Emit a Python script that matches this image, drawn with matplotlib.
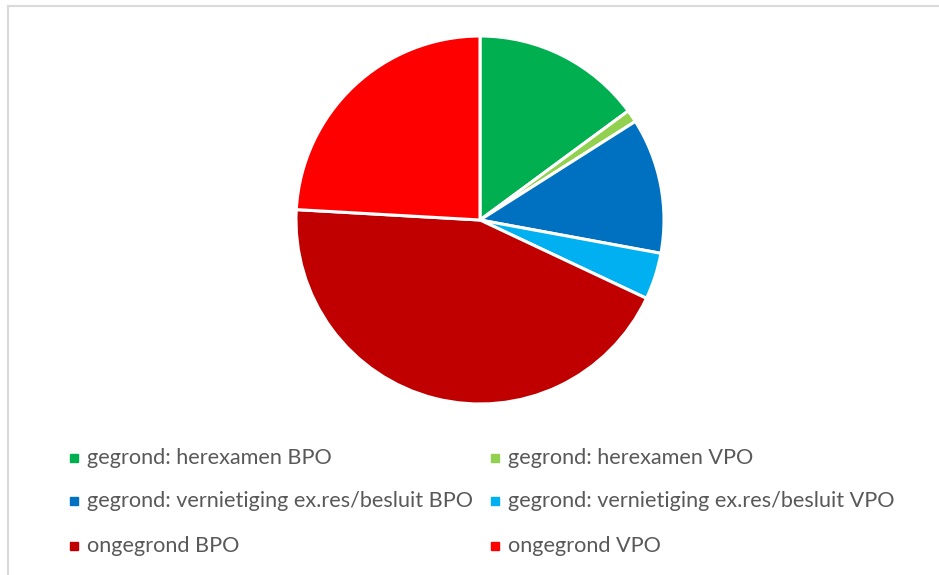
import matplotlib.pyplot as plt
from matplotlib.patches import Rectangle
from matplotlib.lines import Line2D

# slice data (percent), clockwise from 12 o'clock
labels = ['gegrond: herexamen BPO', 'gegrond: herexamen VPO',
          'gegrond: vernietiging ex.res/besluit BPO', 'gegrond: vernietiging ex.res/besluit VPO',
          'ongegrond BPO', 'ongegrond VPO']
values = [14.9, 1.1, 11.9, 4.1, 43.9, 24.1]
colors = ['#00b050', '#92d050', '#0070c0', '#00b0f0', '#c00000', '#ff0000']

W, H = 939, 575
fig = plt.figure(figsize=(W / 100, H / 100), dpi=100)

# pie centre (480, 220) px, radius 184 px
cx, cy, r = 480, 220, 184
ax = fig.add_axes([(cx - r) / W, (H - cy - r) / H, 2 * r / W, 2 * r / H])
ax.pie(values, colors=colors, startangle=90, counterclock=False,
       wedgeprops=dict(edgecolor='white', linewidth=2.2))
ax.set_xlim(-1, 1)
ax.set_ylim(-1, 1)
ax.set_aspect('equal')
ax.axis('off')

# chart frame (only top and left visible in the crop)
fig.add_artist(Line2D([8 / W, 8 / W], [0, 1 - 6 / H], transform=fig.transFigure,
                      color='#d9d9d9', lw=1.5))
fig.add_artist(Line2D([8 / W, 1], [1 - 6 / H, 1 - 6 / H], transform=fig.transFigure,
                      color='#d9d9d9', lw=1.5))

# legend, two columns
col_x = [70, 491]
row_y = [458, 501, 546]
for i, (lab, col) in enumerate(zip(labels, colors)):
    x = col_x[i % 2]
    y = row_y[i // 2]
    fig.add_artist(Rectangle((x / W, (H - y - 4) / H), 8 / W, 8 / H,
                             transform=fig.transFigure, color=col))
    fig.text((x + 17) / W, (H - y) / H, lab, fontsize=15.6, color='#595959',
             family='Lato', va='center', ha='left')

fig.savefig('out.png', dpi=100)
